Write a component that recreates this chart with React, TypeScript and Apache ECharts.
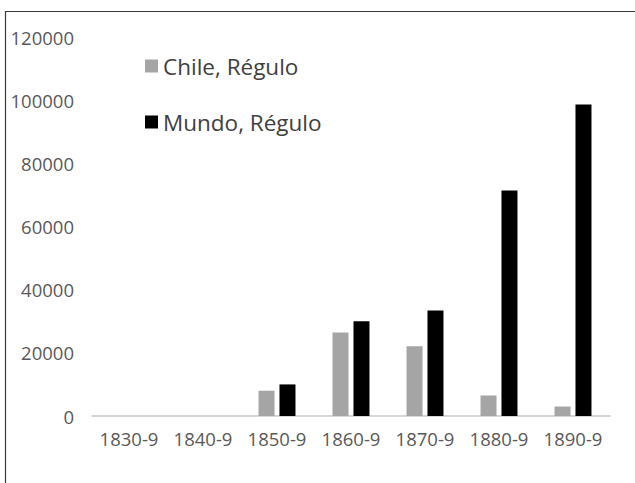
import React, { useEffect, useRef } from "react";
import * as echarts from "echarts";

const categories = ["1830-9", "1840-9", "1850-9", "1860-9", "1870-9", "1880-9", "1890-9"];
const chileValues = [0, 0, 8000, 26400, 22100, 6500, 3000];
const mundoValues = [0, 0, 10000, 30000, 33400, 71400, 98600];
const seriesNames = ["Chile, Régulo", "Mundo, Régulo"];

export default function App() {
  const ref = useRef<HTMLDivElement>(null);
  useEffect(() => {
    if (!ref.current) return;
    const chart = echarts.init(ref.current, undefined, { renderer: "svg" });
    const font = "'Open Sans', sans-serif";
    chart.setOption({
      animation: false,
      backgroundColor: "#ffffff",
      grid: { left: 92, right: 25, top: 37, bottom: 67, containLabel: false },
      legend: {
        orient: "vertical",
        left: 140,
        top: 48,
        itemWidth: 13,
        itemHeight: 13,
        itemGap: 30,
        icon: "rect",
        data: seriesNames,
        textStyle: { fontFamily: font, fontSize: 22.5, color: "#404040", lineHeight: 26 },
      },
      xAxis: {
        type: "category",
        data: categories,
        axisLine: { lineStyle: { color: "#C8C8C8", width: 1.5 } },
        axisTick: { show: false },
        axisLabel: { fontFamily: font, fontSize: 18.5, color: "#595959", margin: 13, interval: 0, hideOverlap: false },
      },
      yAxis: {
        type: "value",
        min: 0,
        max: 120000,
        interval: 20000,
        axisLine: { show: false },
        axisTick: { show: false },
        splitLine: { show: false },
        axisLabel: {
          fontFamily: font,
          fontSize: 18.5,
          color: "#595959",
          margin: 18,
          formatter: (v: number) => String(v),
        },
      },
      series: [
        {
          name: seriesNames[0],
          type: "bar",
          data: chileValues,
          barWidth: 16,
          barGap: "31%",
          itemStyle: { color: "#A5A5A5" },
        },
        {
          name: seriesNames[1],
          type: "bar",
          data: mundoValues,
          barWidth: 16,
          barGap: "31%",
          itemStyle: { color: "#000000" },
        },
      ],
      graphic: [
        { type: "line", shape: { x1: 5.5, y1: 11, x2: 5.5, y2: 483 }, style: { stroke: "#3a3a3a", lineWidth: 1.2 } },
        { type: "line", shape: { x1: 5, y1: 11.5, x2: 635, y2: 11.5 }, style: { stroke: "#3a3a3a", lineWidth: 1.2 } },
      ],
    });
    return () => chart.dispose();
  }, []);
  return (
    <div
      ref={ref}
      style={{ position: "fixed", left: 0, top: 0, width: 635, height: 483, background: "#fff" }}
    />
  );
}
